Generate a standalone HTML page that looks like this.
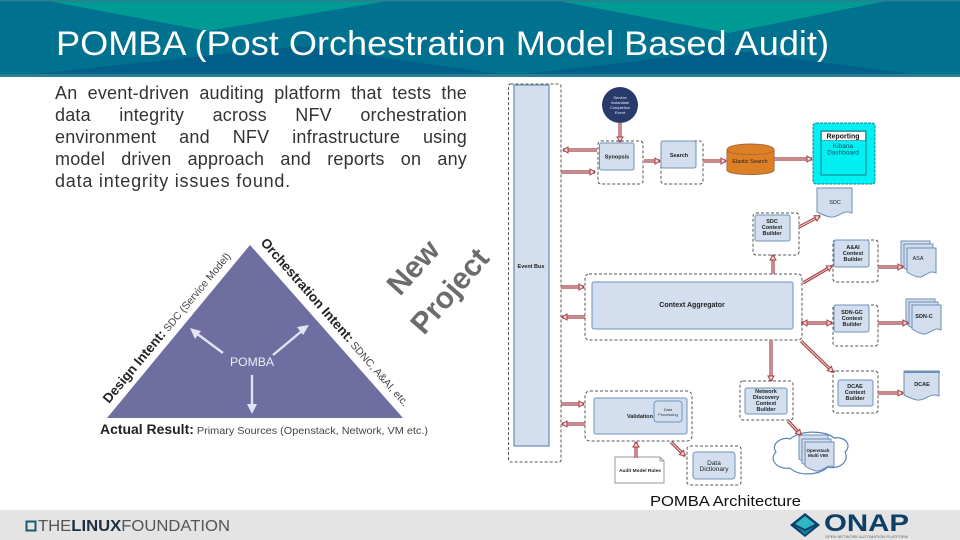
<!DOCTYPE html>
<html><head><meta charset="utf-8"><title>POMBA</title>
<style>
html,body{margin:0;padding:0;width:960px;height:540px;overflow:hidden;background:#fff}
svg{position:absolute;left:0;top:0}
#intro{position:absolute;left:55px;top:82px;width:412px;font:18px/22px "Liberation Sans",sans-serif;color:#333;letter-spacing:.2px}
#intro span{display:block;text-align:justify;text-align-last:justify;white-space:nowrap}
#intro span.l{text-align-last:left;letter-spacing:.78px}
</style></head><body>
<svg width="960" height="540" viewBox="0 0 960 540" xmlns="http://www.w3.org/2000/svg" font-family="'Liberation Sans',sans-serif">
<defs>
<marker id="h" markerUnits="userSpaceOnUse" markerWidth="9" markerHeight="9" refX="6" refY="4" orient="auto"><path d="M1 1L6 4L1 7Z" fill="#f6dcdc" stroke="#a23f45" stroke-width="1"/></marker>
<g id="arrows" fill="none">
<line x1="597" y1="150" x2="563" y2="150"/><line x1="561" y1="172" x2="595" y2="172"/>
<line x1="620" y1="123" x2="620" y2="142"/><line x1="644" y1="161" x2="660" y2="161"/>
<line x1="703" y1="161" x2="726" y2="161"/><line x1="774" y1="159" x2="812" y2="159"/>
<line x1="799" y1="227" x2="820" y2="216"/><line x1="773" y1="274" x2="773" y2="255"/>
<line x1="803" y1="283" x2="832" y2="266"/><line x1="878" y1="267" x2="903" y2="267"/>
<line x1="801" y1="323" x2="832" y2="323"/><line x1="878" y1="323" x2="908" y2="323"/>
<line x1="801" y1="341" x2="833" y2="372"/><line x1="878" y1="393" x2="903" y2="393"/>
<line x1="771" y1="340" x2="771" y2="381"/><line x1="788" y1="421" x2="801" y2="435"/>
<line x1="561" y1="287" x2="584" y2="287"/><line x1="585" y1="317" x2="562" y2="317"/>
<line x1="561" y1="404" x2="584" y2="404"/><line x1="585" y1="424" x2="562" y2="424"/>
<line x1="636" y1="458" x2="636" y2="442"/><line x1="671" y1="442" x2="685" y2="456"/>
</g>
<path id="doc" d="M0 0H35V25C26 21 22 30 13 29C8 28 4 26 0 24Z" fill="#d2deee" stroke="#6f8fb3" stroke-width="1"/>
<path id="doc2" d="M0 0H29V25C22 21 18 30 11 29C7 28 3 26 0 24Z" fill="#d2deee" stroke="#6f8fb3" stroke-width="1"/>
</defs>

<!-- Header -->
<rect width="960" height="76" fill="#00718f"/>
<path d="M43 0H393L207 31Z M553 0H891L728 33Z" fill="#009a94"/>
<path d="M33 74L300 46L500 74Z M524 74L730 50L912 74Z" fill="#00608a"/>
<rect y="0" width="960" height="1.500" fill="#2a7f93"/>
<rect y="74" width="960" height="3" fill="#2a7f93"/>
<text x="56" y="55" font-size="34.500" fill="#fff" textLength="773" lengthAdjust="spacingAndGlyphs">POMBA (Post Orchestration Model Based Audit)</text>

<!-- Triangle -->
<path d="M250 245L403 418H107Z" fill="#6f6ea0"/>
<g stroke="#e3e3f3" stroke-width="2.400" fill="#e3e3f3">
<line x1="223" y1="353" x2="196" y2="333"/><path d="M190 328L201 331L195 339Z" stroke="none"/>
<line x1="273" y1="355" x2="303" y2="330"/><path d="M309 325L303 335L297 327Z" stroke="none"/>
<line x1="252" y1="375" x2="252" y2="405"/><path d="M252 414L247 404H257Z" stroke="none"/>
</g>
<text x="252" y="366" font-size="11.500" fill="#eeeef8" text-anchor="middle" textLength="44" lengthAdjust="spacingAndGlyphs">POMBA</text>
<g fill="#444">
<text transform="translate(109 404) rotate(-50.4)"><tspan font-size="13.500" font-weight="bold" fill="#222">Design Intent:</tspan><tspan font-size="10.500"> SDC (Service Model)</tspan></text>
<text transform="translate(260 243) rotate(48.7)"><tspan font-size="13.500" font-weight="bold" fill="#222">Orchestration Intent:</tspan><tspan font-size="10.500"> SDNC, A&amp;AI, etc.</tspan></text>
<text x="100" y="434" textLength="328" lengthAdjust="spacingAndGlyphs"><tspan font-size="13.500" font-weight="bold" fill="#222">Actual Result:</tspan><tspan font-size="10.500"> Primary Sources (Openstack, Network, VM etc.)</tspan></text>
</g>

<!-- New Project -->
<g font-size="30" font-weight="bold" fill="#6c6c6c">
<text transform="translate(400 297) rotate(-48)">New</text>
<text transform="translate(424 336) rotate(-49)">Project</text>
</g>

<!-- Diagram containers -->
<rect x="514" y="85" width="35" height="361" fill="#d3dfee" stroke="#6f93b6" stroke-width="1.300"/>
<g fill="none" stroke="#555" stroke-width="1" stroke-dasharray="3 2">
<rect x="508.500" y="84" width="52.500" height="378" rx="2"/>
<rect x="598" y="141" width="45" height="43" rx="3"/>
<rect x="661" y="141" width="42" height="43" rx="3"/>
<rect x="753" y="213" width="46" height="42" rx="3"/>
<rect x="833" y="240" width="45" height="42" rx="3"/>
<rect x="585" y="274" width="217" height="66" rx="4"/>
<rect x="833" y="305" width="45" height="41" rx="3"/>
<rect x="833" y="371" width="45" height="42" rx="3"/>
<rect x="740" y="381" width="53" height="39" rx="3"/>
<rect x="585" y="391" width="107" height="50" rx="5"/>
<rect x="687" y="446" width="54" height="39" rx="3"/>
</g>

<!-- Inner boxes -->
<g fill="#d3dfee" stroke="#6f93b6" stroke-width="1">
<rect x="599.500" y="143" width="34.500" height="27" rx="2"/>
<rect x="661" y="141" width="35" height="27" rx="2"/>
<rect x="755" y="215" width="35" height="26" rx="2"/>
<rect x="834" y="240" width="35" height="27" rx="2"/>
<rect x="592" y="282" width="201" height="47" rx="2"/>
<rect x="834" y="305" width="35" height="27" rx="2"/>
<rect x="838" y="380" width="35" height="26" rx="2"/>
<rect x="745" y="388" width="42" height="26" rx="2"/>
<rect x="594" y="398" width="93" height="36" rx="2"/>
<rect x="654" y="401" width="28" height="21" rx="3"/>
<rect x="693" y="452" width="42" height="27" rx="3"/>
</g>

<!-- Start event -->
<circle cx="620" cy="105" r="18" fill="#273a6b"/>
<g fill="#e8ecf5" font-size="4" text-anchor="middle"><text x="620" y="99">Service</text><text x="620" y="104">Instantiate</text><text x="620" y="109">Completion</text><text x="620" y="114">Event</text></g>

<!-- Elastic -->
<path d="M727 150C727 142 774 142 774 150V170C774 176 727 176 727 170Z" fill="#dd7f26" stroke="#a66a33"/>
<path d="M727 150C727 156 774 156 774 150" fill="none" stroke="#a66a33" stroke-width=".8"/>

<!-- Reporting -->
<rect x="813" y="123" width="62" height="61" rx="3" fill="#00f0f4" stroke="#1f7f8f" stroke-dasharray="3 1"/>
<rect x="821" y="131" width="45" height="44" fill="#00f0f4" stroke="#227a88"/>
<rect x="821.500" y="131.500" width="44" height="9" fill="#fff" stroke="#227a88" stroke-width=".6"/>

<!-- Documents -->
<use href="#doc" x="817" y="188"/>
<use href="#doc2" x="901" y="241"/><use href="#doc2" x="904" y="244"/><use href="#doc2" x="907" y="248"/>
<use href="#doc2" x="906" y="299"/><use href="#doc2" x="909" y="302"/><use href="#doc2" x="912" y="305"/>
<use href="#doc" x="904" y="371"/>
<rect x="904" y="371" width="36" height="2" fill="#6f8fb3"/>

<!-- Cloud -->
<path d="M790 439C800 430 825 430 834 438C846 436 852 446 845 452C850 462 838 470 828 467C818 476 798 476 790 468C778 470 768 460 776 452C770 444 782 436 790 439Z" fill="#fff" stroke="#5c82b8" stroke-width="1.200"/>
<use href="#doc2" x="799" y="435"/><use href="#doc2" x="802" y="439"/><use href="#doc2" x="805" y="442"/>

<!-- Audit model -->
<path d="M615 457H660L664 461V483H615Z" fill="#fff" stroke="#999"/>
<path d="M660 457V461H664" fill="none" stroke="#999"/>

<!-- Connectors -->
<use href="#arrows" stroke="#a23f45" stroke-width="3.200"/>
<use href="#arrows" stroke="#f2d3d3" stroke-width="1"/>
<g fill="none" stroke="none">
<line x1="597" y1="150" x2="563" y2="150" marker-end="url(#h)"/><line x1="561" y1="172" x2="595" y2="172" marker-end="url(#h)"/>
<line x1="620" y1="123" x2="620" y2="142" marker-end="url(#h)"/><line x1="644" y1="161" x2="660" y2="161" marker-end="url(#h)"/>
<line x1="703" y1="161" x2="726" y2="161" marker-end="url(#h)"/><line x1="774" y1="159" x2="812" y2="159" marker-end="url(#h)"/>
<line x1="799" y1="227" x2="820" y2="216" marker-end="url(#h)"/><line x1="773" y1="274" x2="773" y2="255" marker-end="url(#h)"/>
<line x1="803" y1="283" x2="832" y2="266" marker-end="url(#h)"/><line x1="878" y1="267" x2="903" y2="267" marker-end="url(#h)"/>
<line x1="801" y1="323" x2="832" y2="323" marker-end="url(#h)"/><line x1="878" y1="323" x2="908" y2="323" marker-end="url(#h)"/>
<line x1="832" y1="323" x2="802" y2="323" marker-end="url(#h)"/>
<line x1="801" y1="341" x2="833" y2="372" marker-end="url(#h)"/><line x1="878" y1="393" x2="903" y2="393" marker-end="url(#h)"/>
<line x1="771" y1="340" x2="771" y2="381" marker-end="url(#h)"/><line x1="788" y1="421" x2="801" y2="435" marker-end="url(#h)"/>
<line x1="561" y1="287" x2="584" y2="287" marker-end="url(#h)"/><line x1="585" y1="317" x2="562" y2="317" marker-end="url(#h)"/>
<line x1="561" y1="404" x2="584" y2="404" marker-end="url(#h)"/><line x1="585" y1="424" x2="562" y2="424" marker-end="url(#h)"/>
<line x1="636" y1="458" x2="636" y2="442" marker-end="url(#h)"/><line x1="671" y1="442" x2="685" y2="456" marker-end="url(#h)"/>
</g>

<!-- Labels -->
<g font-size="5.500" fill="#222" text-anchor="middle" font-weight="bold">
<text x="531" y="268">Event Bus</text>
<text x="617" y="158.500">Synopsis</text>
<text x="679" y="157">Search</text>
<text x="750" y="163" font-weight="normal">Elastic Search</text>
<text x="692" y="307" font-size="7">Context Aggregator</text>
<text x="835" y="204" font-weight="normal">SDC</text>
<text x="772" y="223">SDC</text><text x="772" y="229">Context</text><text x="772" y="235">Builder</text>
<text x="853" y="249">A&amp;AI</text><text x="853" y="255">Context</text><text x="853" y="261">Builder</text>
<text x="852" y="314">SDN-GC</text><text x="852" y="320">Context</text><text x="852" y="326">Builder</text>
<text x="855" y="388">DCAE</text><text x="855" y="394">Context</text><text x="855" y="400">Builder</text>
<text x="766" y="393">Network</text><text x="766" y="399">Discovery</text><text x="766" y="405">Context</text><text x="766" y="411">Builder</text>
<text x="640" y="418">Validation</text>
<text x="918" y="260" font-weight="normal">ASA</text>
<text x="924" y="318">SDN-C</text>
<text x="922" y="386">DCAE</text>
<text x="640" y="472" font-size="4.800">Audit Model Rules</text>
<text x="818" y="452" font-size="4.500">Openstack</text><text x="818" y="457" font-size="4.500">Multi VIM</text>
</g>
<g font-size="4" fill="#333" text-anchor="middle"><text x="668" y="411">Data</text><text x="668" y="416">Processing</text></g>
<g font-size="6.500" fill="#222" text-anchor="middle"><text x="714" y="465">Data</text><text x="714" y="471">Dictionary</text>
<text x="843" y="138.500" font-size="7" font-weight="bold" fill="#111">Reporting</text>
<text x="843" y="148" fill="#0b5560">Kibana</text>
<text x="843" y="154.500" fill="#0b5560">Dashboard</text>
</g>

<!-- Footer -->
<rect y="510" width="960" height="30" fill="#e4e4e4"/>
<text x="650" y="506" font-size="15" fill="#111" textLength="151" lengthAdjust="spacingAndGlyphs">POMBA Architecture</text>
<rect x="26.500" y="521.500" width="9" height="9" fill="none" stroke="#1d5a72" stroke-width="2"/>
<text x="38" y="531" font-size="15.500" fill="#555" textLength="192" lengthAdjust="spacingAndGlyphs">THE<tspan font-weight="bold" fill="#1e3040">LINUX</tspan>FOUNDATION</text>
<path d="M790 525L805 513L820 525L805 537Z" fill="#0f3f66"/>
<path d="M795 524L805 516L815 524L805 529Z" fill="#2fb5c4"/>
<path d="M795 526L805 531L815 526L805 535Z" fill="#0c7f9f"/>
<text x="824" y="531" font-size="24" font-weight="bold" fill="#0f3f66" textLength="85" lengthAdjust="spacingAndGlyphs">ONAP</text>
<text x="825" y="538" font-size="4" fill="#666" textLength="83" lengthAdjust="spacingAndGlyphs">OPEN NETWORK AUTOMATION PLATFORM</text>
</svg>
<div id="intro"><span>An event-driven auditing platform that tests the</span><span>data integrity across NFV orchestration</span><span>environment and NFV infrastructure using</span><span>model driven approach and reports on any</span><span class="l">data integrity issues found.</span></div>
</body></html>
